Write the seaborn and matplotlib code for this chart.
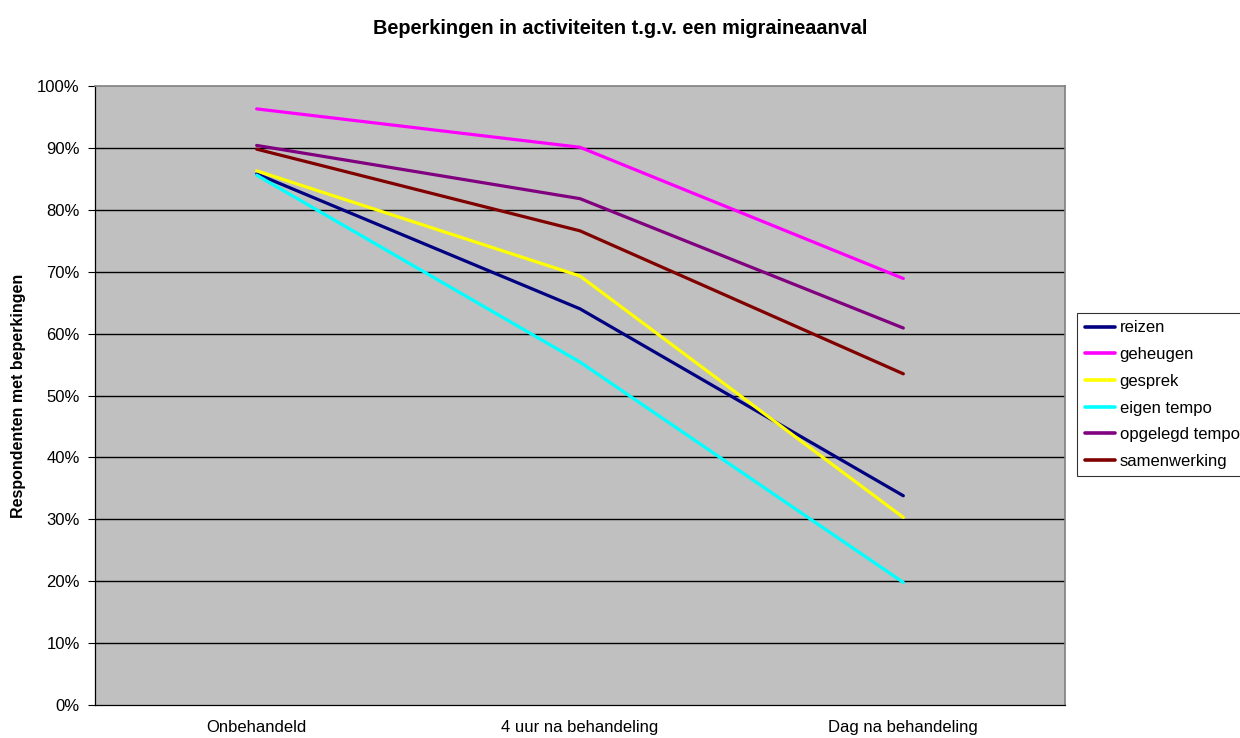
import matplotlib
matplotlib.use("Agg")
import matplotlib.pyplot as plt
import seaborn as sns
import pandas as pd
from matplotlib.ticker import FixedLocator, PercentFormatter

# Moments of measurement and share of respondents with limitations (%)
moments = ["Onbehandeld", "4 uur na behandeling", "Dag na behandeling"]
reizen = [85.8, 64.0, 33.8]
geheugen = [96.3, 90.1, 68.9]
gesprek = [86.3, 69.3, 30.3]
eigen_tempo = [85.6, 55.4, 19.8]
opgelegd_tempo = [90.4, 81.8, 60.9]
samenwerking = [89.8, 76.6, 53.5]

series_names = ["reizen", "geheugen", "gesprek", "eigen tempo", "opgelegd tempo", "samenwerking"]
series_values = [reizen, geheugen, gesprek, eigen_tempo, opgelegd_tempo, samenwerking]
colors = ["#000080", "#FF00FF", "#FFFF00", "#00FFFF", "#800080", "#800000"]

rows = []
for name, vals in zip(series_names, series_values):
    for m, v in zip(moments, vals):
        rows.append({"moment": m, "activiteit": name, "pct": v})
df = pd.DataFrame(rows)

sns.set_style("white")
plt.rcParams["font.family"] = ["Liberation Sans", "DejaVu Sans"]
plt.rcParams["text.color"] = "black"
plt.rcParams["axes.labelcolor"] = "black"
plt.rcParams["xtick.color"] = "black"
plt.rcParams["ytick.color"] = "black"

fig = plt.figure(figsize=(12.4, 7.38), dpi=100)
ax = fig.add_axes([95 / 1240, 33 / 738, 970 / 1240, 619 / 738])
ax.set_facecolor("#C0C0C0")

for y in range(10, 100, 10):
    ax.axhline(y, color="black", linewidth=1.0, zorder=1)

sns.lineplot(data=df, x="moment", y="pct", hue="activiteit", hue_order=series_names,
             palette=colors, linewidth=2.3, sort=False, ax=ax, legend=True, zorder=3)

ax.set_xlim(-0.5, 2.5)
ax.set_ylim(0, 100)
ax.yaxis.set_major_locator(FixedLocator(range(0, 101, 10)))
ax.yaxis.set_major_formatter(PercentFormatter(decimals=0))
ax.xaxis.set_major_locator(FixedLocator([0, 1, 2]))
ax.set_xticklabels(moments)
ax.xaxis.set_minor_locator(FixedLocator([-0.5, 0.5, 1.5, 2.5]))
ax.tick_params(axis="x", which="major", length=0, labelsize=12, pad=11, labelcolor="black")
ax.tick_params(axis="x", which="minor", length=5, width=0.8, color="black", direction="out")
ax.tick_params(axis="y", which="major", length=5, width=0.8, color="black", direction="out",
               labelsize=12, pad=6, labelcolor="black")
ax.tick_params(left=True, bottom=True)

for side in ["top", "right"]:
    ax.spines[side].set_color("#808080")
    ax.spines[side].set_linewidth(1.2)
for side in ["left", "bottom"]:
    ax.spines[side].set_color("black")
    ax.spines[side].set_linewidth(0.9)

ax.set_xlabel("")
ax.set_ylabel("Respondenten met beperkingen", fontsize=11.5, fontweight="bold", labelpad=8,
              color="black")

fig.text(0.5, 1 - 28 / 738, "Beperkingen in activiteiten t.g.v. een migraineaanval",
         ha="center", va="center", fontsize=14.3, fontweight="bold", color="black")

leg = ax.legend(title=None, loc="upper left", bbox_to_anchor=(1077 / 1240, 1 - 313 / 738),
                bbox_transform=fig.transFigure, frameon=True, fancybox=False,
                fontsize=12, handlelength=1.8, handletextpad=0.3, labelspacing=0.7,
                borderpad=0.45, borderaxespad=0)
leg.get_frame().set_edgecolor("black")
leg.get_frame().set_linewidth(0.8)
for text in leg.get_texts():
    text.set_color("black")
for line in leg.get_lines():
    line.set_linewidth(2.6)

fig.savefig("out.png", dpi=100, facecolor="white")
